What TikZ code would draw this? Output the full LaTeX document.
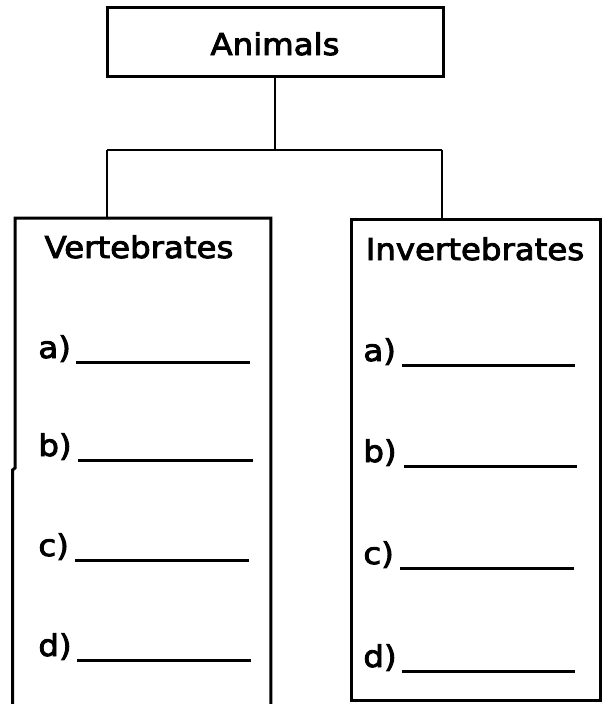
\documentclass[tikz,border=0pt]{standalone}
\usepackage{fontspec}
\setmainfont{DejaVu Sans}[FakeStretch=1.08, FakeBold=3]
\begin{document}
\begin{tikzpicture}[x=1pt,y=-1pt,line width=2.8pt,
  txt/.style={font=\fontsize{30}{34}\selectfont, inner sep=0pt},
  lbl/.style={txt, anchor=base west},
  blank/.style={line width=3pt},
  frame/.style={line width=3pt}]
\useasboundingbox (0,0) rectangle (608,704);
% top box
\node[draw, frame, minimum width=336pt, minimum height=69pt, inner sep=0pt] (animals) at (275,42) {};
\node[txt, anchor=base] (animalstxt) at (275,55) {Animals};
% junctions
\coordinate (j) at (275,150);
\coordinate (jl) at (107,150);
\coordinate (jr) at (442,150);
% lower boxes
\node[minimum width=253pt, minimum height=488pt, inner sep=0pt, anchor=north west] (vbox) at (15,218) {};
\node[draw, frame, minimum width=249pt, minimum height=481pt, inner sep=0pt, anchor=north west] (ibox) at (350,218) {};
\draw[frame] (12.5,708) -- (12.5,470) -- (15,468) -- (vbox.north west) -- (vbox.north east) -- (vbox.south east);
% connectors
\draw (animals.south) -- (j);
\draw (jl) -- (jr);
\draw (jl) -- (jl |- vbox.north);
\draw (jr) -- (jr |- ibox.north);
% headings
\node[txt, anchor=base] (verttxt) at (139,258) {Vertebrates};
\node[txt, anchor=base] (inverttxt) at (475,260) {Invertebrates};
% left items
\node[lbl] (va) at (37,358) {a)};
\node[lbl] (vb) at (37,456) {b)};
\node[lbl] (vc) at (37,556) {c)};
\node[lbl] (vd) at (37,656) {d)};
\draw[blank] (76,362) -- (250,362);
\draw[blank] (78,460) -- (253,460);
\draw[blank] (75,560) -- (249,560);
\draw[blank] (77,660) -- (251,660);
% right items
\node[lbl] (ia) at (362,361) {a)};
\node[lbl] (ib) at (362,462) {b)};
\node[lbl] (ic) at (362,564) {c)};
\node[lbl] (id) at (362,667) {d)};
\draw[blank] (402,365) -- (575,365);
\draw[blank] (404,466) -- (577,466);
\draw[blank] (400,568) -- (574,568);
\draw[blank] (402,671) -- (575,671);
\end{tikzpicture}
\end{document}
